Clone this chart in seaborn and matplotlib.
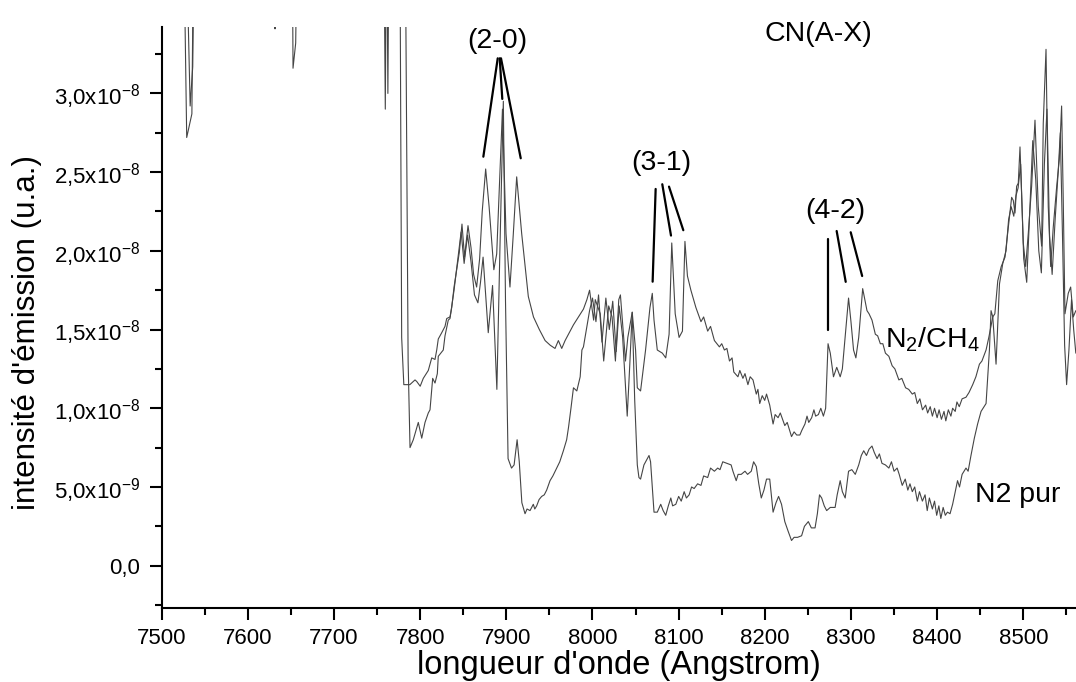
import numpy as np
import matplotlib
matplotlib.use("Agg")
import matplotlib.pyplot as plt
import seaborn as sns
import pandas as pd

# Wavelength (Angstrom) and emission intensity (units of 1e-8 a.u.)
wl_ch4 = [7500, 7526, 7533, 7536, 7539, 7630, 7631.5, 7633, 7757, 7759.5, 7761.5, 7776,
          7778.5, 7781, 7788, 7794, 7796, 7800, 7803.6, 7809.4, 7813.4, 7817.2, 7819.2, 7821,
          7825, 7828.8, 7830.8, 7834.6, 7836.6, 7839.3, 7842.4, 7845.4, 7848.5, 7851.5, 7855.5,
          7859, 7862, 7865.5, 7869, 7872, 7876, 7880, 7885.5, 7888.8, 7895.5, 7899.6, 7904.2,
          7908, 7912, 7917.8, 7925.5, 7931.5, 7938.3, 7945, 7951, 7956.5, 7960.4, 7964.3,
          7968.2, 7974, 7977.9, 7983.7, 7989.5, 7993.5, 7996.6, 8001.3, 8003.2, 8009, 8013,
          8018.8, 8022.7, 8026.6, 8030.5, 8032.4, 8034.4, 8038.3, 8041, 8046.1, 8050, 8052,
          8055.8, 8061.6, 8066.7, 8069.4, 8071.4, 8075.2, 8081.1, 8085, 8088.9, 8092, 8096,
          8100.5, 8104.4, 8107.3, 8110.2, 8114.2, 8120, 8125.9, 8129, 8133.7, 8137, 8141.5,
          8147.3, 8150, 8153.1, 8156, 8159, 8162, 8164, 8168.8, 8171, 8174.6, 8177, 8180.4,
          8183, 8186.3, 8190.1, 8192, 8194.1, 8197, 8199.9, 8202, 8205.7, 8209.6, 8212, 8215.4,
          8218, 8223.2, 8226, 8231, 8234, 8237, 8240.7, 8243, 8246.6, 8249, 8251, 8254.4, 8257,
          8259, 8262.2, 8265, 8268, 8270.6, 8273.4, 8276, 8279.7, 8283.5, 8287.5, 8290, 8297.2,
          8300, 8303, 8305.7, 8309, 8313.6, 8318.6, 8321, 8324.4, 8328.3, 8331, 8334.1, 8337,
          8340, 8344, 8347.8, 8351, 8355.6, 8359, 8363.4, 8367, 8371.2, 8374, 8377, 8380, 8383,
          8386.7, 8389, 8392, 8394.5, 8397, 8400, 8402.3, 8405, 8408, 8410.1, 8413, 8416, 8418,
          8421, 8423, 8425.7, 8429, 8433.5, 8437, 8441.3, 8445, 8449.1, 8452, 8456.8, 8460,
          8464.6, 8467, 8470.4, 8474.4, 8478.8, 8482.6, 8486.5, 8488.4, 8490.4, 8492.3, 8494.2,
          8496.2, 8500, 8502.8, 8505.8, 8509.7, 8513.6, 8517.4, 8521.3, 8523.2, 8526.4, 8529,
          8531.8, 8534.8, 8538.8, 8541.8, 8544.5, 8546.4, 8548.4, 8552.2, 8555, 8558, 8561]
int_ch4 = [4.6, 4.6, 2.92, 3.17, 4.6, 4.6, 3.41, 4.6, 4.6, 2.9, 4.6, 4.6,
           1.45, 1.15, 1.15, 1.18, 1.17, 1.14, 1.19, 1.24, 1.32, 1.31, 1.37, 1.44,
           1.48, 1.52, 1.57, 1.58, 1.64, 1.77, 1.88, 1.99, 2.17, 1.96, 2.16,
           2.02, 1.85, 1.77, 1.95, 2.25, 2.52, 2.28, 1.88, 1.98, 2.90, 2.11, 1.77,
           2.10, 2.47, 2.11, 1.71, 1.58, 1.50, 1.43, 1.40, 1.38, 1.43, 1.38,
           1.43, 1.49, 1.53, 1.58, 1.63, 1.69, 1.75, 1.56, 1.69, 1.60, 1.30,
           1.65, 1.58, 1.30, 1.69, 1.72, 1.58, 1.30, 1.45, 1.61, 1.37, 1.13,
           1.11, 1.37, 1.64, 1.73, 1.56, 1.37, 1.35, 1.32, 1.47, 2.05, 1.60,
           1.45, 1.49, 2.06, 1.84, 1.75, 1.64, 1.55, 1.58, 1.49, 1.52, 1.43,
           1.39, 1.41, 1.37, 1.38, 1.30, 1.32, 1.23, 1.20, 1.24, 1.19, 1.22, 1.15,
           1.20, 1.18, 1.09, 1.12, 1.03, 1.08, 1.05, 1.09, 1.02, 0.90, 0.96, 0.94,
           0.97, 0.89, 0.91, 0.82, 0.85, 0.83, 0.83, 0.86, 0.90, 0.95, 0.91, 0.94, 0.99,
           0.95, 0.96, 1.00, 0.95, 1.00, 1.41, 1.35, 1.20, 1.26, 1.20, 1.25, 1.70,
           1.55, 1.37, 1.32, 1.45, 1.76, 1.62, 1.60, 1.56, 1.47, 1.46, 1.41, 1.41,
           1.35, 1.33, 1.27, 1.25, 1.18, 1.19, 1.13, 1.12, 1.09, 1.10, 1.03, 1.06, 0.99,
           1.02, 0.97, 1.01, 0.95, 1.00, 0.94, 0.99, 0.93, 0.98, 0.92, 0.99, 0.95, 1.00,
           0.98, 1.04, 1.01, 1.06, 1.07, 1.10, 1.15, 1.20, 1.28, 1.30, 1.37, 1.45,
           1.58, 1.60, 1.81, 1.90, 1.96, 2.15, 2.34, 2.32, 2.24, 2.41, 2.43,
           2.66, 2.05, 1.90, 2.11, 2.41, 2.83, 2.28, 2.03, 2.81, 3.28, 2.28,
           1.90, 2.15, 2.41, 2.58, 2.92, 2.32, 1.60, 1.73, 1.77, 1.58, 1.62]

wl_n2 = [7500, 7524, 7529, 7535, 7538, 7650.9, 7652.4, 7655.5, 7658.5, 7760.5, 7762.5, 7764.5,
         7782, 7786, 7788.2, 7792, 7797.8, 7801.8, 7805.6, 7809.4, 7811.4, 7814.5, 7817.2,
         7819.9, 7821, 7826.8, 7828.8, 7832.6, 7834.6, 7839.3, 7844.2, 7847.5, 7851, 7855,
         7859, 7863, 7867, 7870, 7873, 7879, 7884, 7889, 7892.5, 7896.5, 7899, 7902, 7906,
         7909, 7912.5, 7915, 7918, 7921.7, 7924, 7927.5, 7931.3, 7933, 7935.2, 7938, 7941,
         7944, 7946.8, 7950.7, 7954, 7958.5, 7962, 7966.2, 7970, 7972.2, 7975, 7977.9, 7981.8,
         7985.7, 7987.7, 7989.5, 7993.5, 7996.6, 8000, 8004, 8007, 8011, 8015.5, 8019.5,
         8023.5, 8027.5, 8031, 8035, 8040.3, 8043.3, 8046.1, 8049, 8052, 8053.9, 8055.8,
         8059.7, 8065.6, 8067.4, 8071.4, 8075.2, 8079.2, 8082, 8085, 8088, 8090.9, 8093,
         8096.7, 8100, 8103, 8106.4, 8109, 8112.2, 8115, 8118, 8122, 8125.9, 8129, 8133.7,
         8137, 8141.5, 8145.3, 8148, 8151.2, 8156, 8160.9, 8163, 8166.8, 8169, 8172.6, 8177,
         8180, 8184.3, 8187, 8190.1, 8193, 8195.9, 8199, 8202, 8205.7, 8209.6, 8213, 8216,
         8219.4, 8223.2, 8227, 8231, 8234, 8238, 8242.7, 8246, 8250.5, 8254, 8258.3, 8261,
         8263.5, 8266, 8269, 8271.8, 8276, 8281.6, 8284, 8287.5, 8290, 8293.3, 8297.2, 8301,
         8305, 8309, 8312, 8314.8, 8318, 8321, 8324.4, 8327, 8330.3, 8333, 8336, 8340, 8344,
         8347, 8350, 8353.6, 8356, 8359.5, 8363, 8366, 8368.5, 8371.2, 8374, 8377, 8379.5,
         8382.9, 8386, 8388.5, 8391, 8394.5, 8397, 8399.5, 8402, 8404.3, 8407, 8409.5, 8412,
         8415, 8418, 8421, 8423.7, 8426, 8429, 8433.5, 8436, 8439.3, 8443.2, 8447, 8451,
         8456.8, 8460.7, 8462.6, 8464.6, 8468.4, 8472.4, 8476.2, 8480, 8483, 8486, 8489,
         8491.5, 8494, 8497, 8500.5, 8504, 8507.5, 8511, 8514.5, 8518, 8521, 8524.5, 8527.5,
         8530.5, 8533.5, 8537, 8540.5, 8543, 8545.5, 8548, 8550.3, 8553, 8556, 8558.5, 8561]
int_n2 = [4.6, 4.6, 2.72, 2.87, 4.6, 4.6, 3.16, 3.32, 4.6, 4.6, 3.0, 4.6,
          4.6, 1.30, 0.75, 0.80, 0.91, 0.81, 0.91, 0.97, 0.99, 1.19, 1.16,
          1.22, 1.33, 1.37, 1.46, 1.56, 1.57, 1.75, 1.97, 2.12, 1.92, 2.10,
          1.93, 1.72, 1.67, 1.80, 1.96, 1.48, 1.78, 1.12, 2.00, 2.95, 1.69, 0.68, 0.62,
          0.64, 0.80, 0.66, 0.40, 0.33, 0.36, 0.35, 0.39, 0.36, 0.38, 0.42, 0.44,
          0.45, 0.48, 0.54, 0.57, 0.62, 0.66, 0.73, 0.80, 0.88, 1.00, 1.13, 1.11,
          1.20, 1.37, 1.39, 1.52, 1.62, 1.70, 1.55, 1.72, 1.42, 1.70, 1.50,
          1.68, 1.36, 1.65, 1.45, 0.95, 1.28, 1.61, 1.05, 0.64, 0.56, 0.55,
          0.64, 0.70, 0.66, 0.34, 0.34, 0.39, 0.35, 0.32, 0.38, 0.43, 0.38,
          0.39, 0.44, 0.41, 0.47, 0.43, 0.45, 0.50, 0.49, 0.52, 0.51, 0.57, 0.56,
          0.62, 0.60, 0.62, 0.61, 0.66, 0.65, 0.64, 0.60, 0.54, 0.58, 0.58, 0.60,
          0.58, 0.60, 0.66, 0.63, 0.52, 0.43, 0.48, 0.55, 0.55, 0.34, 0.40, 0.44,
          0.39, 0.28, 0.22, 0.16, 0.18, 0.18, 0.19, 0.25, 0.28, 0.24, 0.24, 0.33,
          0.45, 0.43, 0.38, 0.35, 0.37, 0.37, 0.45, 0.54, 0.47, 0.43, 0.60, 0.61,
          0.58, 0.64, 0.70, 0.73, 0.70, 0.74, 0.76, 0.72, 0.68, 0.71, 0.65, 0.64, 0.62,
          0.66, 0.60, 0.62, 0.58, 0.51, 0.55, 0.48, 0.52, 0.47, 0.50, 0.41, 0.47,
          0.41, 0.45, 0.35, 0.43, 0.36, 0.41, 0.32, 0.38, 0.30, 0.37, 0.32, 0.34,
          0.33, 0.39, 0.47, 0.54, 0.50, 0.58, 0.62, 0.60, 0.70, 0.81, 0.90, 0.98,
          1.03, 1.37, 1.62, 1.58, 1.28, 1.79, 1.92, 2.00, 2.20, 2.28, 2.22,
          2.35, 2.40, 2.55, 1.95, 1.80, 2.25, 2.70, 2.45, 2.00, 1.86, 2.55, 2.90,
          2.10, 1.85, 2.20, 2.50, 2.75, 2.10, 1.40, 1.15, 1.37, 1.69, 1.50, 1.35]

UNIT = 1e-8

# Band-head markers: (x_start, y_start, x_end, y_end) in Angstrom / 1e-8
band_20 = [(7890.0, 3.223, 7873.3, 2.598), (7892.3, 3.223, 7895.3, 2.965), (7893.8, 3.223, 7916.7, 2.588)]
band_31 = [(8073.3, 2.393, 8069.8, 1.804), (8081.0, 2.423, 8091.1, 2.097), (8088.8, 2.408, 8105.4, 2.131)]
band_42 = [(8273.0, 2.078, 8273.0, 1.494), (8283.4, 2.126, 8293.9, 1.803), (8299.7, 2.118, 8313.0, 1.840)]

y_ticks = [0.0, 0.5, 1.0, 1.5, 2.0, 2.5, 3.0]
y_tick_labels = ["0,0", "5,0x10$^{-9}$", "1,0x10$^{-8}$", "1,5x10$^{-8}$",
                 "2,0x10$^{-8}$", "2,5x10$^{-8}$", "3,0x10$^{-8}$"]
x_ticks = [7500, 7600, 7700, 7800, 7900, 8000, 8100, 8200, 8300, 8400, 8500]

sns.set_theme(style="ticks")
plt.rcParams["font.family"] = ["Liberation Sans", "DejaVu Sans"]
plt.rcParams["mathtext.fontset"] = "custom"
plt.rcParams["mathtext.rm"] = "Liberation Sans"
plt.rcParams["mathtext.default"] = "regular"
plt.rcParams["text.color"] = "black"
plt.rcParams["axes.labelcolor"] = "black"

fig = plt.figure(figsize=(10.76, 6.82), dpi=100)
ax = fig.add_axes([0.1503, 0.1081, 0.8497, 0.8528])

df_ch4 = pd.DataFrame({"wl": wl_ch4, "I": np.array(int_ch4) * UNIT})
df_n2 = pd.DataFrame({"wl": wl_n2, "I": np.array(int_n2) * UNIT})
line_col = "#454545"
sns.lineplot(data=df_ch4, x="wl", y="I", ax=ax, color=line_col, lw=0.8, estimator=None)
sns.lineplot(data=df_n2, x="wl", y="I", ax=ax, color=line_col, lw=0.8, estimator=None)

for group in (band_20, band_31, band_42):
    for x0, y0, x1, y1 in group:
        ax.plot([x0, x1], [y0 * UNIT, y1 * UNIT], color="black", lw=1.6)

ax.text(7890, 3.33 * UNIT, "(2-0)", ha="center", va="center", fontsize=20.5)
ax.text(8080, 2.56 * UNIT, "(3-1)", ha="center", va="center", fontsize=20.5)
ax.text(8281.6, 2.25 * UNIT, "(4-2)", ha="center", va="center", fontsize=20.5)
ax.text(8262, 3.375 * UNIT, "CN(A-X)", ha="center", va="center", fontsize=20.5)
ax.text(8340, 1.387 * UNIT, "N$_2$/CH$_4$", ha="left", va="baseline", fontsize=20.5)
ax.text(8444.5, 0.407 * UNIT, "N2 pur", ha="left", va="baseline", fontsize=20.5)

ax.set_xlim(7500, 8561.2)
ax.set_ylim(-0.2706 * UNIT, 3.424 * UNIT)
ax.set_xticks(x_ticks)
ax.set_xticks(np.arange(7550, 8561, 100), minor=True)
ax.set_yticks([v * UNIT for v in y_ticks])
ax.set_yticklabels(y_tick_labels)
ax.set_yticks([v * UNIT for v in [-0.25, 0.25, 0.75, 1.25, 1.75, 2.25, 2.75, 3.25]], minor=True)

ax.tick_params(axis="both", which="major", direction="out", length=8.6, width=1.5,
               labelsize=16, color="black", labelcolor="black")
ax.tick_params(axis="x", which="major", pad=5.5)
ax.tick_params(axis="y", which="major", pad=7)
ax.tick_params(axis="both", which="minor", direction="out", length=5, width=1.5, color="black")

sns.despine(ax=ax, top=True, right=True)
for s in ("left", "bottom"):
    ax.spines[s].set_linewidth(1.5)
    ax.spines[s].set_color("black")

ax.set_xlabel("longueur d'onde (Angstrom)", fontsize=23.5, labelpad=1)
ax.set_ylabel("intensité d'émission (u.a.)", fontsize=22.6)
ax.yaxis.set_label_coords(-0.131, 0.475)

fig.savefig("out.png", dpi=100, facecolor="white")
